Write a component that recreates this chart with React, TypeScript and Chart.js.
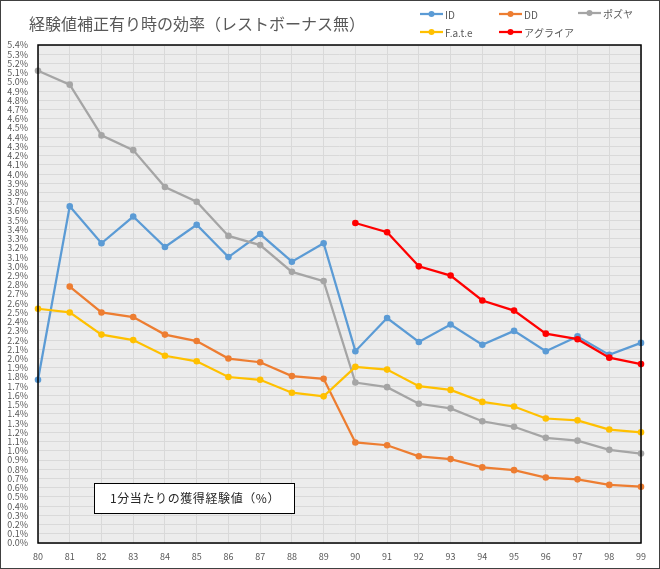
import React, { useEffect, useRef } from "react";
import { Chart, registerables } from "chart.js";

Chart.register(...registerables);

const levels = ["80","81","82","83","84","85","86","87","88","89","90","91","92","93","94","95","96","97","98","99"];

const idValues = [1.77, 3.65, 3.25, 3.54, 3.21, 3.45, 3.10, 3.35, 3.05, 3.25, 2.08, 2.44, 2.18, 2.37, 2.15, 2.30, 2.08, 2.24, 2.04, 2.17];
const ddValues = [null, 2.78, 2.50, 2.45, 2.26, 2.19, 2.00, 1.96, 1.81, 1.78, 1.09, 1.06, 0.94, 0.91, 0.82, 0.79, 0.71, 0.69, 0.63, 0.61];
const pozuyaValues = [5.12, 4.97, 4.42, 4.26, 3.86, 3.70, 3.33, 3.23, 2.94, 2.84, 1.74, 1.69, 1.51, 1.46, 1.32, 1.26, 1.14, 1.11, 1.01, 0.97];
const fateValues = [2.54, 2.50, 2.26, 2.20, 2.03, 1.97, 1.80, 1.77, 1.63, 1.59, 1.91, 1.88, 1.70, 1.66, 1.53, 1.48, 1.35, 1.33, 1.23, 1.20];
const agriaValues = [null, null, null, null, null, null, null, null, null, null, 3.47, 3.37, 3.00, 2.90, 2.63, 2.52, 2.27, 2.21, 2.01, 1.94];

const seriesNames = ["ID", "DD", "ポズヤ", "F.a.t.e", "アグライア"];
const seriesColors = ["#5b9bd5", "#ed7d31", "#a5a5a5", "#ffc000", "#ff0000"];

const titleText = "経験値補正有り時の効率（レストボーナス無）";
const noteText = "1分当たりの獲得経験値（%）";

const FONT = "'Noto Sans CJK JP', 'Noto Sans', sans-serif";

const decorPlugin = {
  id: "decor",
  beforeDraw(chart: any) {
    const ctx = chart.ctx;
    const a = chart.chartArea;
    ctx.save();
    ctx.fillStyle = "#ffffff";
    ctx.fillRect(0, 0, chart.width, chart.height);
    ctx.fillStyle = "#ececec";
    ctx.fillRect(a.left, a.top, a.right - a.left, a.bottom - a.top);
    ctx.restore();
  },
  afterDraw(chart: any) {
    const ctx = chart.ctx;
    const a = chart.chartArea;
    ctx.save();
    ctx.strokeStyle = "#000000";
    ctx.lineWidth = 1.5;
    ctx.strokeRect(a.left, a.top, a.right - a.left, a.bottom - a.top);
    ctx.strokeStyle = "#404040";
    ctx.lineWidth = 1;
    ctx.strokeRect(0.5, 0.5, chart.width - 1, chart.height - 1);
    ctx.fillStyle = "#595959";
    ctx.font = `16px ${FONT}`;
    ctx.textAlign = "left";
    ctx.textBaseline = "middle";
    ctx.fillText(titleText, 29, 24);
    const pos = [
      [420, 14], [499, 14], [578, 13], [420, 32], [499, 32],
    ];
    seriesNames.forEach((name, i) => {
      const [x, y] = pos[i];
      ctx.strokeStyle = seriesColors[i];
      ctx.lineWidth = 2.25;
      ctx.beginPath();
      ctx.moveTo(x, y);
      ctx.lineTo(x + 23, y);
      ctx.stroke();
      ctx.fillStyle = seriesColors[i];
      ctx.beginPath();
      ctx.arc(x + 11.5, y, 3, 0, Math.PI * 2);
      ctx.fill();
      ctx.fillStyle = "#595959";
      ctx.font = `10px ${FONT}`;
      ctx.textAlign = "left";
      ctx.textBaseline = "middle";
      ctx.fillText(name, x + 25, y + 1);
    });
    ctx.fillStyle = "#ffffff";
    ctx.fillRect(94, 483, 200, 30);
    ctx.strokeStyle = "#000000";
    ctx.lineWidth = 1;
    ctx.strokeRect(94.5, 483.5, 200, 30);
    ctx.fillStyle = "#262626";
    ctx.font = `12px ${FONT}`;
    (ctx as any).letterSpacing = "0.6px";
    ctx.textAlign = "left";
    ctx.textBaseline = "middle";
    ctx.fillText(noteText, 110, 498);
    (ctx as any).letterSpacing = "0px";
    ctx.restore();
  },
};

export default function App() {
  const ref = useRef<HTMLCanvasElement | null>(null);
  useEffect(() => {
    document.body.style.margin = "0";
    const canvas = ref.current!;
    const allSeries = [idValues, ddValues, pozuyaValues, fateValues, agriaValues];
    const chart = new Chart(canvas, {
      type: "line",
      data: {
        labels: levels,
        datasets: allSeries.map((vals, i) => ({
          label: seriesNames[i],
          data: vals,
          borderColor: seriesColors[i],
          backgroundColor: seriesColors[i],
          pointBackgroundColor: seriesColors[i],
          pointBorderColor: seriesColors[i],
          pointRadius: 3.3,
          pointBorderWidth: 0,
          borderWidth: 2.25,
          tension: 0,
          fill: false,
          order: 5 - i,
          spanGaps: false,
        })),
      },
      options: {
        responsive: false,
        animation: false,
        devicePixelRatio: 1,
        layout: { padding: { left: 0, top: 45, right: 19, bottom: 0 } },
        plugins: {
          legend: { display: false },
          title: { display: false },
          tooltip: { enabled: false },
        },
        scales: {
          x: {
            type: "category",
            offset: false,
            grid: { color: "#d9d9d9", lineWidth: 1, drawTicks: false, offset: false },
            border: { display: false },
            ticks: {
              color: "#595959",
              font: { size: 9, family: FONT },
              padding: 8,
              maxRotation: 0,
              autoSkip: false,
            },
            afterFit(scale: any) { scale.height = 26; },
          },
          y: {
            min: 0,
            max: 5.4,
            grid: { color: "#d9d9d9", lineWidth: 1, drawTicks: false },
            border: { display: false },
            ticks: {
              stepSize: 0.1,
              autoSkip: false,
              color: "#595959",
              font: { size: 9, family: FONT, lineHeight: 1 },
              padding: 10,
              callback: (v: any) => Number(v).toFixed(1) + "%",
            },
            afterFit(scale: any) { scale.width = 38; },
          },
        },
      },
      plugins: [decorPlugin],
    } as any);
    return () => chart.destroy();
  }, []);
  return (
    <div style={{ position: "absolute", left: 0, top: 0, width: 660, height: 569 }}>
      <canvas ref={ref} width={660} height={569} style={{ width: 660, height: 569, display: "block" }} />
    </div>
  );
}
